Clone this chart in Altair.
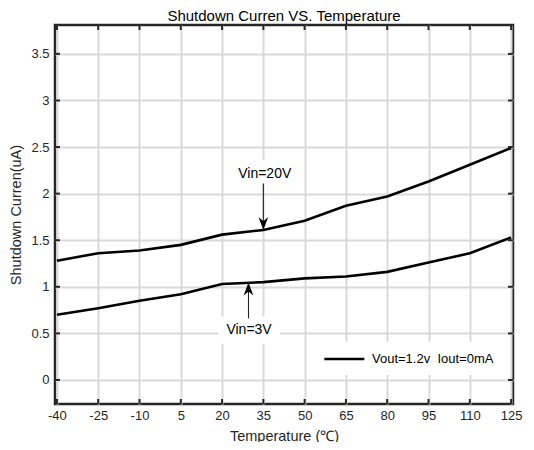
import altair as alt
import pandas as pd

# ---- data ----
temps = [-40, -25, -10, 5, 20, 35, 50, 65, 80, 95, 110, 125]
vin20 = [1.28, 1.36, 1.39, 1.45, 1.56, 1.61, 1.71, 1.87, 1.97, 2.13, 2.31, 2.49]
vin3 = [0.70, 0.77, 0.85, 0.92, 1.03, 1.05, 1.09, 1.11, 1.16, 1.26, 1.36, 1.53]
series_names = ["Vin=20V", "Vin=3V"]
legend_label = "Vout=1.2v\u00a0 Iout=0mA"

x_ticks = [-40, -25, -10, 5, 20, 35, 50, 65, 80, 95, 110, 125]
y_ticks = [0, 0.5, 1, 1.5, 2, 2.5, 3, 3.5]

ann_labels = ["Vin=20V", "Vin=3V"]
ann_text_x = [35.5, 29.8]
ann_text_y = [2.21, 0.54]
ann_box_x = [23.5, 18.5]
ann_box_x2 = [47.5, 41.0]
ann_box_y = [2.11, 0.39]
ann_box_y2 = [2.36, 0.68]
arrow_x = [35, 29.6]
arrow_from = [2.11, 0.66]
arrow_to = [1.61, 1.045]
arrow_dir = ["down", "up"]

X_DOMAIN = [-40.7, 125.7]
Y_DOMAIN = [-0.258, 3.81]
W, H = 458, 379
FONT = "Liberation Sans"
DARK = "#262626"

xs = alt.Scale(domain=X_DOMAIN, nice=False, zero=False)
ys = alt.Scale(domain=Y_DOMAIN, nice=False, zero=False)

xaxis = alt.Axis(values=x_ticks, title="Temperature (\u2103)", ticks=False, domain=False,
                 grid=True, gridColor="#d9d9d9", gridWidth=2,
                 labelExpr="toString(datum.value)",
                 labelFont=FONT, labelFontSize=13, labelColor=DARK, labelPadding=5,
                 titleFont=FONT, titleFontSize=14.5, titleFontWeight="normal",
                 titleColor=DARK, titlePadding=7)
yaxis = alt.Axis(values=y_ticks, title="Shutdown Curren(uA)", ticks=False, domain=False,
                 grid=True, gridColor="#d9d9d9", gridWidth=2,
                 labelExpr="toString(datum.value)",
                 labelFont=FONT, labelFontSize=13, labelColor=DARK, labelPadding=6,
                 titleFont=FONT, titleFontSize=14.5, titleFontWeight="normal",
                 titleColor=DARK, titleX=-39, titleBaseline="middle")

rows = []
for t, a, b in zip(temps, vin20, vin3):
    rows.append({"series": series_names[0], "temp": t, "val": a, "legend": legend_label})
    rows.append({"series": series_names[1], "temp": t, "val": b, "legend": legend_label})
df = pd.DataFrame(rows)

legend_stroke = "M-1,0H5"
lines = alt.Chart(df).mark_line(strokeWidth=2.6, clip=True).encode(
    x=alt.X("temp:Q", scale=xs, axis=xaxis),
    y=alt.Y("val:Q", scale=ys, axis=yaxis),
    color=alt.Color("legend:N", scale=alt.Scale(range=["black"]),
                    legend=alt.Legend(title=None, orient="none", legendX=259, legendY=317,
                                      fillColor="white", padding=9, symbolType=legend_stroke,
                                      symbolSize=178, symbolStrokeWidth=2.6,
                                      labelFont=FONT, labelFontSize=13, labelColor="black",
                                      labelOffset=33)),
    detail="series:N",
)

xt = pd.DataFrame({"temp": x_ticks})
yt = pd.DataFrame({"val": y_ticks})
tick_style = dict(color=DARK, strokeWidth=2)
xtick_b = alt.Chart(xt).mark_rule(**tick_style).encode(
    x=alt.X("temp:Q", scale=xs, axis=xaxis), y=alt.value(H), y2=alt.value(H - 5))
xtick_t = alt.Chart(xt).mark_rule(**tick_style).encode(
    x=alt.X("temp:Q", scale=xs, axis=xaxis), y=alt.value(0), y2=alt.value(5))
ytick_l = alt.Chart(yt).mark_rule(**tick_style).encode(
    y=alt.Y("val:Q", scale=ys, axis=yaxis), x=alt.value(0), x2=alt.value(5))
ytick_r = alt.Chart(yt).mark_rule(**tick_style).encode(
    y=alt.Y("val:Q", scale=ys, axis=yaxis), x=alt.value(W), x2=alt.value(W - 5))

ann = pd.DataFrame({
    "label": ann_labels, "tx": ann_text_x, "ty": ann_text_y,
    "bx": ann_box_x, "bx2": ann_box_x2, "by": ann_box_y, "by2": ann_box_y2,
    "ax": arrow_x, "a0": arrow_from, "a1": arrow_to, "dir": arrow_dir,
})

boxes = alt.Chart(ann).mark_rect(color="white").encode(
    x=alt.X("bx:Q", scale=xs, axis=xaxis), x2="bx2:Q",
    y=alt.Y("by:Q", scale=ys, axis=yaxis), y2="by2:Q")
texts = alt.Chart(ann).mark_text(font=FONT, fontSize=14, color="black", baseline="middle").encode(
    x=alt.X("tx:Q", scale=xs, axis=xaxis), y=alt.Y("ty:Q", scale=ys, axis=yaxis), text="label:N")
shafts = alt.Chart(ann).mark_rule(color="#222222", strokeWidth=1.1).encode(
    x=alt.X("ax:Q", scale=xs, axis=xaxis), y=alt.Y("a0:Q", scale=ys, axis=yaxis), y2="a1:Q")
head_down = "M0,0L-0.75,-2L0,-1.35L0.75,-2Z"
head_up = "M0,0L-0.75,2L0,1.35L0.75,2Z"
heads = alt.Chart(ann).mark_point(filled=True, color="black", opacity=1, size=169, strokeWidth=0).encode(
    x=alt.X("ax:Q", scale=xs, axis=xaxis), y=alt.Y("a1:Q", scale=ys, axis=yaxis),
    shape=alt.Shape("dir:N", scale=alt.Scale(domain=["down", "up"], range=[head_down, head_up]),
                    legend=None))

chart = alt.layer(lines, xtick_b, xtick_t, ytick_l, ytick_r, boxes, shafts, heads, texts).properties(
    width=W, height=H,
    title=alt.Title("Shutdown Curren VS. Temperature", font=FONT, fontSize=15, fontWeight="normal",
                    color="black", offset=0),
    autosize=alt.AutoSizeParams(type="none"),
    padding={"left": 47, "top": 17, "right": 13, "bottom": 38},
    background="white",
).configure_view(stroke=DARK, strokeWidth=2.5)

chart.save("out.html", embed_options={"renderer": "svg", "actions": False})
